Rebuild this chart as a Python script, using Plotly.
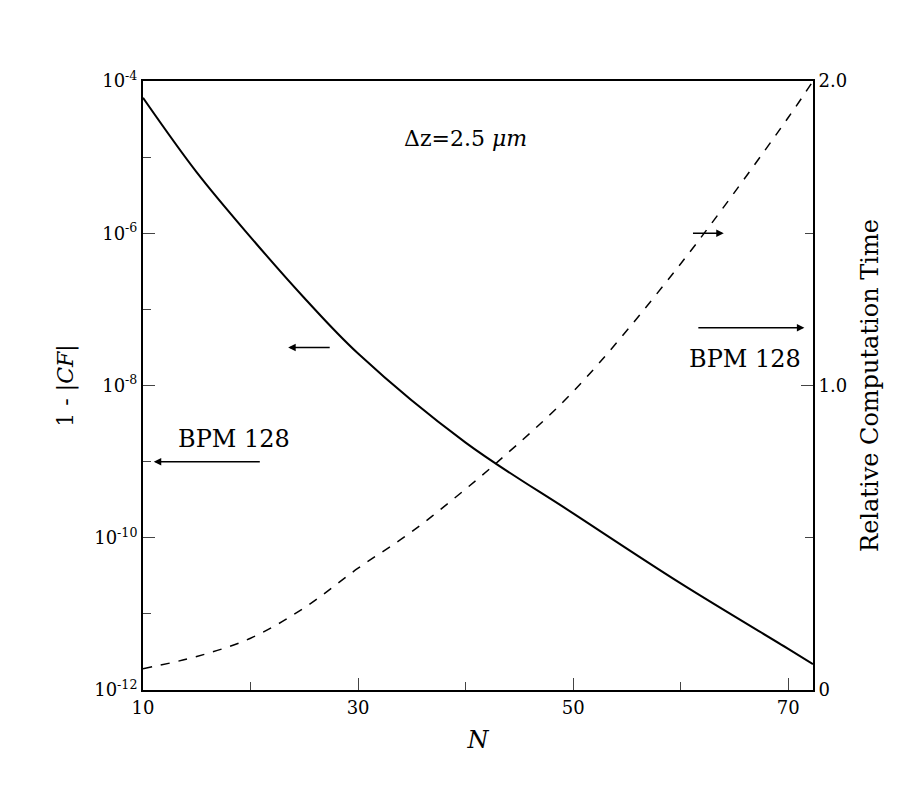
import plotly.graph_objects as go

N_solid = [10, 15, 20, 25, 30, 40, 50, 60, 70, 72.3]
err = [10**-4.22, 10**-5.2, 10**-6.05, 10**-6.85, 10**-7.58, 10**-8.75, 10**-9.68, 10**-10.6, 10**-11.46, 10**-11.66]
N_dash = [10, 15, 20, 25, 30, 35, 40, 43, 50, 60, 70, 72.3]
rel_time = [0.07, 0.11, 0.17, 0.27, 0.40, 0.52, 0.66, 0.75, 0.98, 1.40, 1.88, 2.0]

F = dict(family="DejaVu Serif", color="black")
fig = go.Figure()
fig.add_trace(go.Scatter(x=N_solid, y=err, mode="lines", line=dict(color="black", width=2, shape="spline", smoothing=1.0), showlegend=False))
fig.add_trace(go.Scatter(x=N_dash, y=rel_time, mode="lines", yaxis="y2", line=dict(color="black", width=1.5, dash="dash", shape="spline"), showlegend=False))

def arrow(x0, x1, ylog, ref="y"):
    fig.add_annotation(x=x1, y=ylog, ax=x0, ay=ylog, xref="x", yref=ref, axref="x", ayref=ref,
                       showarrow=True, arrowhead=2, arrowsize=1, arrowwidth=1.5, arrowcolor="black", text="")

arrow(27.5, 23.5, -7.5)
arrow(21, 11, -9.0)
arrow(61, 64, 1.5, "y2")
arrow(61.5, 71.5, 1.19, "y2")

fig.add_annotation(x=40, y=-4.75, xref="x", yref="y", text="Δz=2.5 <i>μm</i>", showarrow=False, font=dict(size=22, **F))
fig.add_annotation(x=18.5, y=-8.7, xref="x", yref="y", text="BPM 128", showarrow=False, font=dict(size=24, **F))
fig.add_annotation(x=66, y=-7.65, xref="x", yref="y", text="BPM 128", showarrow=False, font=dict(size=24, **F))

fig.update_layout(
    width=900, height=800, margin=dict(l=135, r=95, t=73, b=118),
    plot_bgcolor="white", paper_bgcolor="white", font=dict(size=18, **F),
    xaxis=dict(range=[10, 72.3], tickvals=[10, 30, 50, 70], ticks="inside", ticklen=12,
               tickfont=dict(size=18, **F),
               minor=dict(tickvals=[20, 40, 60], ticks="inside", ticklen=8),
               showline=True, linecolor="black", linewidth=2, mirror=True, showgrid=False,
               title=dict(text="<i>N</i>", font=dict(size=24, **F))),
    yaxis=dict(type="log", range=[-12, -4], tickvals=[1e-12, 1e-10, 1e-8, 1e-6, 1e-4],
               ticktext=["10<sup>-12</sup>", "10<sup>-10</sup>", "10<sup>-8</sup>", "10<sup>-6</sup>", "10<sup>-4</sup>"],
               tickfont=dict(size=18, **F),
               ticks="inside", ticklen=12, showgrid=False, showline=True, linecolor="black", linewidth=2,
               minor=dict(tickvals=[1e-11, 1e-9, 1e-7, 1e-5], ticks="inside", ticklen=8),
               title=dict(text="1 - |<i>CF</i>|", font=dict(size=22, **F))),
    yaxis2=dict(overlaying="y", side="right", range=[0, 2.0], tickvals=[0, 1.0, 2.0], ticktext=["0", "1.0", "2.0"],
                tickfont=dict(size=18, **F),
                ticks="inside", ticklen=12, showgrid=False, showline=True, linecolor="black", linewidth=2,
                minor=dict(tickvals=[0.5, 1.5], ticks="inside", ticklen=8),
                title=dict(text="Relative Computation Time", font=dict(size=24, **F))),
)
fig.write_html("out.html")
